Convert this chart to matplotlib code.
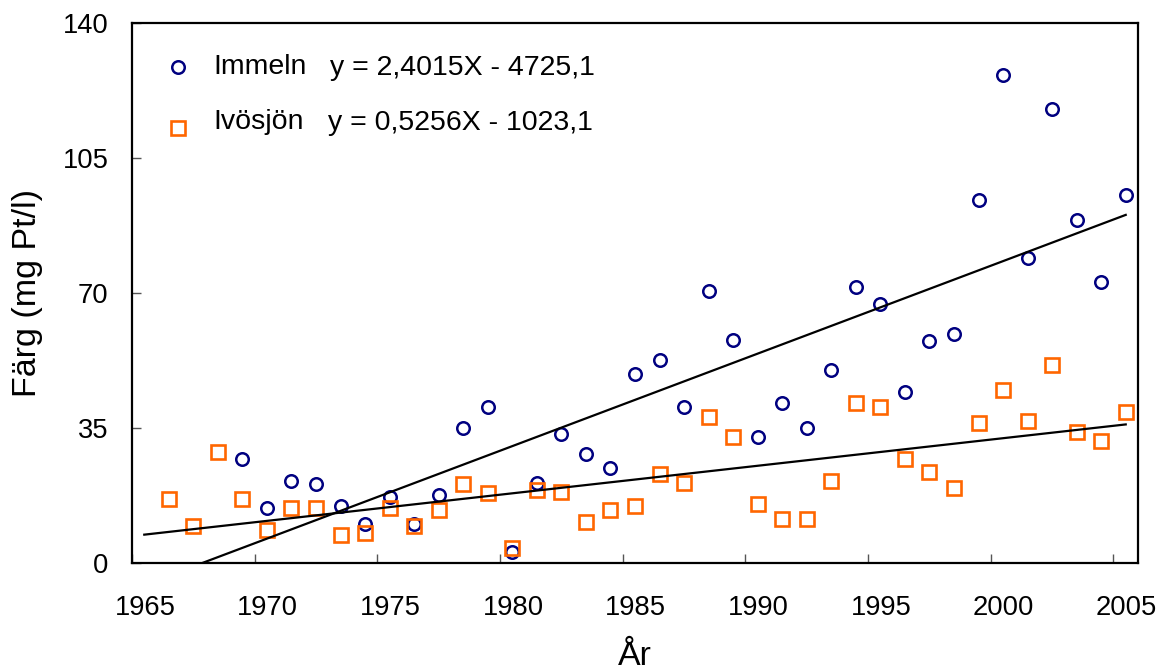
import numpy as np
import matplotlib
matplotlib.use('Agg')
import matplotlib.pyplot as plt
import matplotlib.transforms as mtransforms

plt.rcParams['font.family'] = ['Liberation Sans', 'DejaVu Sans']

# Colour (mg Pt/l) per year
immeln_years = list(range(1969, 2006))
immeln_colour = [26.9, 14.1, 21.1, 20.4, 14.7, 10.1, 17.1, 10.1, 17.6, 35.0,
                 40.2, 2.8, 20.5, 33.3, 28.1, 24.5, 48.8, 52.4, 40.3, 70.3,
                 57.6, 32.6, 41.3, 35.0, 50.0, 71.5, 66.9, 44.2, 57.5, 59.2,
                 94.0, 126.4, 78.9, 117.7, 88.8, 72.6, 95.2]

ivo_years = list(range(1966, 2006))
ivo_colour = [16.5, 9.5, 28.6, 16.5, 8.4, 14.1, 14.1, 7.1, 7.7, 14.1,
              9.5, 13.5, 20.4, 18.1, 3.7, 18.8, 18.2, 10.6, 13.6, 14.7,
              22.9, 20.5, 37.8, 32.6, 15.3, 11.3, 11.3, 21.1, 41.3, 40.3,
              26.9, 23.4, 19.3, 36.2, 44.8, 36.6, 51.2, 33.9, 31.5, 39.0]

labels = ['Immeln', 'Ivösjön']
equations = ['y = 2,4015X - 4725,1', 'y = 0,5256X - 1023,1']
trend_span = [1965, 2005]
tick_years = [1965, 1970, 1975, 1980, 1985, 1990, 1995, 2000, 2005]
y_ticks = [0, 35, 70, 105, 140]

navy = '#000080'
orange = '#FF6600'
circle_style = dict(marker='o', ms=9.0, mfc='none', mec=navy, mew=1.8, ls='none')
square_style = dict(marker='s', ms=9.4, mfc='none', mec=orange, mew=1.9, ls='none')

fig = plt.figure(figsize=(11.63, 6.70), dpi=100)
ax = fig.add_axes([0.1135, 0.1604, 0.8650, 0.8060])

ax.plot(immeln_years, immeln_colour, **circle_style)
ax.plot(ivo_years, ivo_colour, **square_style)

# linear trend lines
xs = np.array(trend_span, dtype=float)
for yrs, vals in [(immeln_years, immeln_colour), (ivo_years, ivo_colour)]:
    k, m = np.polyfit(yrs, vals, 1)
    ax.plot(xs, k * xs + m, color='black', lw=1.6)

ax.set_xlim(1964.5, 2005.5)
ax.set_ylim(0, 140)
ax.set_xticks([y - 0.5 for y in tick_years])
ax.set_xticklabels([str(y) for y in tick_years])
ax.set_yticks(y_ticks)
ax.set_yticklabels([str(v) for v in y_ticks])
ax.tick_params(axis='both', direction='in', length=6.7, width=1.0,
               color='#555555', labelsize=19.7)
ax.tick_params(axis='x', pad=23.5)
ax.tick_params(axis='y', pad=17)

shift = mtransforms.ScaledTranslation(0.13, 0, fig.dpi_scale_trans)
for lab in ax.get_xticklabels():
    lab.set_transform(lab.get_transform() + shift)

for sp in ax.spines.values():
    sp.set_linewidth(1.6)
    sp.set_color('black')

ax.set_xlabel('År', fontsize=24.5, labelpad=14)
ax.set_ylabel('Färg (mg Pt/l)', fontsize=24.5, labelpad=14)

# legend entries with the trend equations
ax.plot([0.0454], [0.918], transform=ax.transAxes, clip_on=False, **circle_style)
ax.plot([0.0454], [0.804], transform=ax.transAxes, clip_on=False, **square_style)
ax.text(0.0805, 0.9046, labels[0], fontsize=20.5, transform=ax.transAxes, va='baseline')
ax.text(0.0805, 0.8037, labels[1], fontsize=20.5, transform=ax.transAxes, va='baseline')
ax.text(0.1968, 0.9028, equations[0], fontsize=20.5, transform=ax.transAxes, va='baseline')
ax.text(0.1948, 0.8009, equations[1], fontsize=20.5, transform=ax.transAxes, va='baseline')

fig.savefig('out.png', dpi=100)
